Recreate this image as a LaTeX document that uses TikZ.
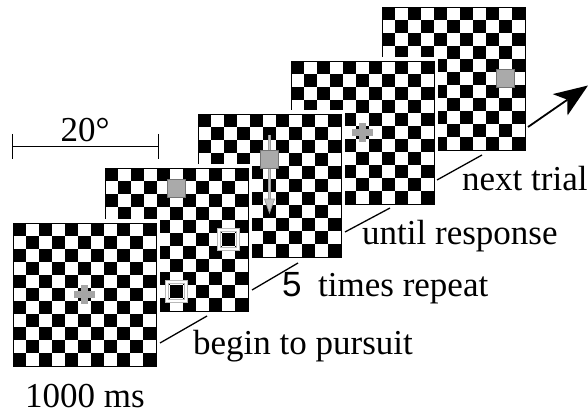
\documentclass[tikz,border=0pt]{standalone}
\usepackage{fontspec}
\setmainfont{Liberation Serif}
\newfontfamily\sansfive{Liberation Sans}
\usetikzlibrary{arrows.meta}
\newcommand{\chkboard}[3]{%
  \coordinate (#1) at (#2,#3);
  \fill[white] (#2-4,#3-4) rectangle ++(151,151);
  \fill[black] (#2,#3) rectangle ++(143,143);
  \foreach \i in {0,...,10}{\foreach \j in {0,...,10}{%
     \pgfmathtruncatemacro\pp{mod(\i+\j,2)}%
     \ifnum\pp=1 \fill[white] (#2+13*\i,#3+13*\j) rectangle ++(13,13);\fi
  }}
  \draw[black,line width=0.8pt] (#2,#3) rectangle ++(143,143);
}
\newcommand{\grcross}[2]{%
  \fill[crossgray] (#1-10.5,#2-3.5) rectangle ++(21,7);
  \fill[crossgray] (#1-3.5,#2-9.5) rectangle ++(7,19);
}
\definecolor{crossgray}{RGB}{165,165,165}
\definecolor{sqgray}{RGB}{170,170,170}
\begin{document}
\begin{tikzpicture}[x=1pt,y=-1pt,
  lbl/.style={font=\fontsize{35}{40}\selectfont, inner sep=0pt},
  leader/.style={line width=1.3pt, black},
  graysq/.style={fill=sqgray, draw=gray!90!black, line width=0.6pt},
  outsq/.style={draw=gray!55, double=white, line width=1.2pt, double distance=1.1pt}
]
\useasboundingbox (0,0) rectangle (588,414);
% board 5 (back)
\chkboard{b5}{382}{7}
\draw[graysq] (505.5-9,78.5-9) rectangle ++(18,18);
% board 4
\chkboard{b4}{291}{61}
\grcross{362.5}{132.5}
% board 3
\chkboard{b3}{198}{114}
\draw[draw=gray!75, line width=3.2pt] (269.5,135) -- (269.5,200);
\draw[draw=gray!45, line width=1.2pt] (269.5,135) -- (269.5,200);
\draw[draw=gray!80, fill=gray!45, line width=0.7pt] (264.5,199) -- (274.5,199) -- (269.5,213) -- cycle;
\draw[graysq] (269.5-9,159.5-9) rectangle ++(18,18);
% board 2
\chkboard{b2}{105}{168}
\draw[graysq] (176.5-9,188.5-9) rectangle ++(18,18);
\draw[outsq] (228.5-9.5,239.5-9.5) rectangle ++(19,19);
\draw[outsq] (176.5-9.5,291.5-9.5) rectangle ++(19,19);
% board 1 (front)
\chkboard{b1}{13}{223}
\grcross{84.5}{294.5}
% scale bar
\coordinate (sl) at (12,147);
\coordinate (sr) at (158,147);
\draw[line width=1pt] (sl) -- (sr);
\draw[line width=1pt] (12,134) -- (12,159);
\draw[line width=1pt] (158,134) -- (158,159);
\node[lbl, anchor=base] (deg) at (85,142) {20°};
% labels
\node[lbl, anchor=base] (t1000) at (85,407) {1000 ms};
\node[lbl, anchor=base west] (begin) at (193,354) {begin to pursuit};
\node[lbl, anchor=base west] (five) at (282,296) {\sansfive 5};
\node[lbl, anchor=base west] (rep) at (318,296) {times repeat};
\node[lbl, anchor=base west] (until) at (362,244) {until response};
\node[lbl, anchor=base west] (next) at (462,190) {next trial};
% leader lines
\coordinate (l1a) at (160,343); \coordinate (l1b) at (207,316);
\coordinate (l2a) at (252,290); \coordinate (l2b) at (298,263);
\coordinate (l3a) at (345,232); \coordinate (l3b) at (390,208);
\coordinate (l4a) at (437,180); \coordinate (l4b) at (482,155);
\draw[leader] (l1a) -- (l1b);
\draw[leader] (l2a) -- (l2b);
\draw[leader] (l3a) -- (l3b);
\draw[leader] (l4a) -- (l4b);
% arrow to next trial
\coordinate (aa) at (528,127);
\coordinate (ab) at (567.4,99.7);
\coordinate (tip) at (588,85.5);
\draw[line width=1.8pt] (aa) -- (ab);
\fill[black] (tip) -- (567.5,115.5) -- (567.4,99.7) -- (552.7,94.1) -- cycle;
\end{tikzpicture}
\end{document}
